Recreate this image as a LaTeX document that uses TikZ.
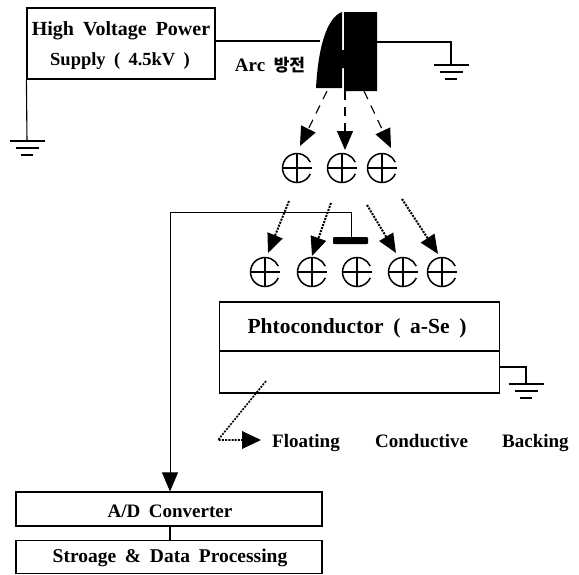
\documentclass[tikz,border=0pt]{standalone}
\usepackage{fontspec}
\setmainfont{Liberation Serif}[WordSpace=1.8]
\newfontfamily\krfont{Noto Sans CJK KR Bold}
\usetikzlibrary{arrows.meta,calc}
\tikzset{
  x=1pt,y=-1pt,
  wire/.style={line width=1.1pt},
  thinwire/.style={line width=0.8pt},
  boxn/.style={draw,line width=1.2pt,rectangle,inner sep=0pt,font=\fontsize{19}{20}\selectfont\bfseries},
  lbl/.style={inner sep=0pt,font=\fontsize{19}{20}\selectfont\bfseries},
  bigtip/.style={-{Triangle[length=19pt,width=16pt]}},
  dashline/.style={line width=1.1pt,dash pattern=on 9pt off 7pt,bigtip},
  dotline/.style={line width=2pt,dash pattern=on 2pt off 1.2pt,bigtip},
  pluspt/.style={circle,minimum size=30pt,inner sep=0pt},
}
\newcommand{\gnd}[3]{%
  \draw[line width=1.3pt] (#1-17.5*#3,#2) -- (#1+17.5*#3,#2);
  \draw[line width=1.3pt] (#1-11.5*#3,#2+7) -- (#1+11.5*#3,#2+7);
  \draw[line width=1.5pt] (#1-6*#3,#2+14) -- (#1+6*#3,#2+14);
}
\newcommand{\plusmark}[3]{%
  \node[pluspt] (#1) at (#2,#3) {};
  \draw[line width=1.5pt] ($(#1.center)+(13.25,5.9)$) arc[start angle=24,end angle=336,radius=14.5];
  \draw[line width=1.2pt] (#1.west) -- (#1.east);
  \draw[line width=1.2pt] (#1.north) -- (#1.south);
}
\begin{document}
\begin{tikzpicture}
\useasboundingbox (0,0) rectangle (579,574);
% boxes
\node[boxn,minimum width=188pt,minimum height=71pt] (hv) at (121,43.5) {};
\node[lbl,font=\fontsize{20}{22}\selectfont\bfseries] (hv1) at (121,31) {High Voltage Power};
\node[lbl,font=\fontsize{18.5}{22}\selectfont\bfseries] (hv2) at (120,61) {Supply ( 4.5kV )};
\node[boxn,minimum width=280pt,minimum height=49pt] (pc) at (359.5,326.5) {};
\node[lbl,font=\fontsize{21.5}{22}\selectfont\bfseries] (pct) at (357,328) {Phtoconductor ( a-Se )};
\node[boxn,minimum width=280pt,minimum height=42pt] (back) at (359.5,372) {};
\node[boxn,minimum width=306pt,minimum height=34pt] (ad) at (169,509) {};
\node[lbl] (adt) at (170,511) {A/D Converter};
\node[boxn,minimum width=306pt,minimum height=33pt] (st) at (169,557) {};
\node[lbl,font=\fontsize{19.5}{22}\selectfont\bfseries] (stt) at (170,558) {Stroage \& Data Processing};
% electrode
\fill (342,12) .. controls (326,18) and (318,50) .. (316,88) -- (342,88) -- (342,68) -- (344,68) -- (344,91) -- (377,91) -- (377,12) -- (344,12) -- (344,50) -- (342,50) -- cycle;
\coordinate (elecL) at (320,41);
\coordinate (elecR) at (377,42);
\coordinate (gA) at (27,141);
\coordinate (gB) at (451,65);
\coordinate (gC) at (526,384);
\coordinate (src1) at (327,91);
\coordinate (src2) at (345,91);
\coordinate (src3) at (364,91);
\draw[wire] (hv.east |- elecL) -- (elecL);
\draw[wire] (elecR) -- (elecR -| gB) -- (gB);
\draw[wire] (hv.south west) -- (gA);
\coordinate (pcTap) at (499,367);
\draw[wire] (pcTap) -- (pcTap -| gC) -- (gC);
\gnd{27}{141}{1}
\gnd{451}{65}{1}
\gnd{526}{384}{1}
\node[lbl] (arc) at (270,65) {Arc {\krfont\fontsize{17}{20}\selectfont 방전}};
% plus charges
\plusmark{pa}{297}{168}
\plusmark{pb}{342}{168}
\plusmark{pc1}{382}{168}
\plusmark{pd}{265}{272}
\plusmark{pe}{312}{272}
\plusmark{pf}{357}{272}
\plusmark{pg}{403}{272}
\plusmark{ph}{442}{272}
% dashed arrows
\coordinate (t1) at (300,146);
\coordinate (t2) at (345,150);
\coordinate (t3) at (391,148);
\draw[dashline] (src1) -- (t1);
\draw[dashline] (src2) -- (t2);
\draw[dashline] (src3) -- (t3);
% dotted arrows
\coordinate (s4) at (289,201); \coordinate (t4) at (268,253);
\coordinate (s5) at (331,203); \coordinate (t5) at (312,256);
\coordinate (s6) at (367,205); \coordinate (t6) at (396,253);
\coordinate (s7) at (402,199); \coordinate (t7) at (438,254);
\draw[dotline] (s4) -- (t4);
\draw[dotline] (s5) -- (t5);
\draw[dotline] (s6) -- (t6);
\draw[dotline] (s7) -- (t7);
% collector bar and signal line
\node[fill=black,minimum width=35pt,minimum height=7pt,inner sep=0pt,rounded corners=1pt] (bar) at (350.5,240.5) {};
\coordinate (bend1) at (351,212);
\coordinate (bend2) at (170,212);
\draw[thinwire,-{Triangle[length=19pt,width=16pt]}] (bar.north -| bend1) -- (bend1) -- (bend2) -- (bend2 |- ad.north);
\draw[wire] (ad.south -| bend2) -- (st.north -| bend2);
% floating backing pointer
\coordinate (f1) at (266,381);
\coordinate (f2) at (218,440);
\coordinate (f3) at (261,440);
\draw[line width=1.6pt,dash pattern=on 2pt off 1.2pt] (f1) -- (f2) -- (242,440);
\fill (242,431) -- (f3) -- (242,449) -- cycle;
\node[lbl,anchor=base west] (fl1) at (272,447) {Floating};
\node[lbl,anchor=base west] (fl2) at (375,447) {Conductive};
\node[lbl,anchor=base west] (fl3) at (502,447) {Backing};
\end{tikzpicture}
\end{document}
